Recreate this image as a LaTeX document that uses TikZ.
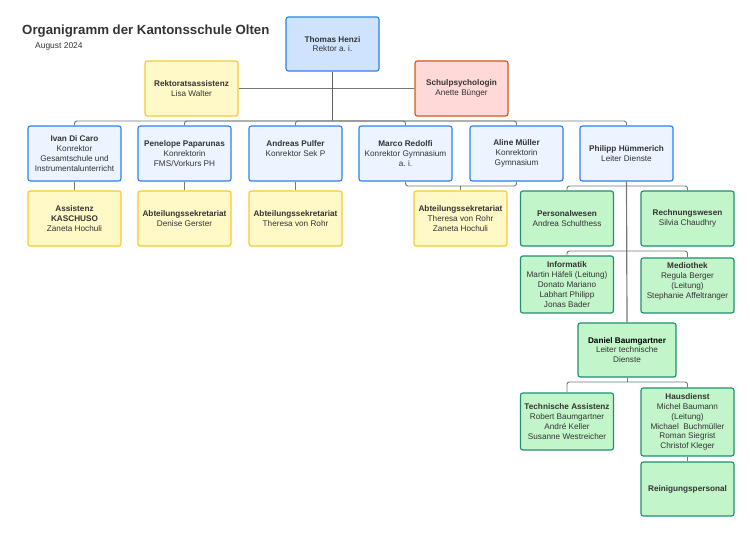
\documentclass[tikz,border=0pt]{standalone}
\usepackage{fontspec}
\setmainfont{Liberation Sans}
\usetikzlibrary{positioning}

\definecolor{rektorfill}{HTML}{CFE3FF}
\definecolor{konfill}{HTML}{EBF4FF}
\definecolor{blueline}{HTML}{2F80ED}
\definecolor{yelfill}{HTML}{FFF9C8}
\definecolor{yelline}{HTML}{F6CB2F}
\definecolor{redfill}{HTML}{FFD8D8}
\definecolor{redline}{HTML}{D4581C}
\definecolor{grnfill}{HTML}{C3F5CA}
\definecolor{grnline}{HTML}{1E9170}
\definecolor{textgray}{HTML}{333333}
\definecolor{linegray}{HTML}{777777}

\tikzset{
	box/.style={draw, rounded corners=2pt, line width=1pt, align=center, inner sep=1pt,
		minimum width=2.79cm, minimum height=1.65cm, text=textgray,
		font=\fontsize{7}{8.4}\selectfont},
	bluebox/.style={box, draw=blueline, fill=konfill},
	rektorbox/.style={box, draw=blueline, fill=rektorfill},
	yelbox/.style={box, draw=yelline, fill=yelfill},
	redbox/.style={box, draw=redline, fill=redfill},
	grnbox/.style={box, draw=grnline, fill=grnfill},
	conn/.style={draw=linegray, line width=0.8pt, rounded corners=2pt},
	mainconn/.style={draw=linegray!80!black, line width=1.4pt},
}

\begin{document}
\begin{tikzpicture}[x=0.03cm, y=-0.03cm]
	\useasboundingbox (0,0) rectangle (750,533);
	
	\node[anchor=west, inner sep=0pt, font=\bfseries\fontsize{11.3}{13}\selectfont, text=textgray] (title) at (22,31) {Organigramm der Kantonsschule Olten};
	\node[anchor=west, inner sep=0pt, font=\fontsize{7.2}{9}\selectfont, text=textgray] (date) at (35,46) {August 2024};
	
	\node[rektorbox, minimum height=1.62cm] (henzi) at (332.5,44) {\textbf{Thomas Henzi}\\Rektor a.\ i.};
	\node[yelbox] (rekass) at (191.5,88.5) {\textbf{Rektoratsassistenz}\\Lisa Walter};
	\node[redbox] (psych) at (461.5,88.5) {\textbf{Schulpsychologin}\\Anette Bünger};
	
	\node[bluebox] (ivan) at (74.5,153.5) {\textbf{Ivan Di Caro}\\Konrektor\\Gesamtschule und\\Instrumentalunterricht};
	\node[bluebox] (pene) at (184.5,153.5) {\textbf{Penelope Paparunas}\\Konrektorin\\FMS/Vorkurs PH};
	\node[bluebox] (andreas) at (295.5,153.5) {\textbf{Andreas Pulfer}\\Konrektor Sek P\\};
	\node[bluebox] (marco) at (405.5,153.5) {\textbf{Marco Redolfi}\\Konrektor Gymnasium\\a.\ i.};
	\node[bluebox] (aline) at (516.5,153.5) {\textbf{Aline Müller}\\Konrektorin\\Gymnasium};
	\node[bluebox] (philipp) at (626.5,153.5) {\textbf{Philipp Hümmerich}\\Leiter Dienste};
	
	\node[yelbox] (kaschuso) at (74.5,218.5) {\textbf{Assistenz}\\\textbf{KASCHUSO}\\Zaneta Hochuli};
	\node[yelbox] (denise) at (184.5,218.5) {\textbf{Abteilungssekretariat}\\Denise Gerster};
	\node[yelbox] (theresa) at (295.5,218.5) {\textbf{Abteilungssekretariat}\\Theresa von Rohr};
	\node[yelbox] (sekr) at (460.5,218.5) {\textbf{Abteilungssekretariat}\\Theresa von Rohr\\Zaneta Hochuli};
	\node[grnbox] (personal) at (567,218.5) {\textbf{Personalwesen}\\Andrea Schulthess};
	\node[grnbox] (rechnung) at (687.5,218.5) {\textbf{Rechnungswesen}\\Silvia Chaudhry};
	
	\node[grnbox, minimum height=1.71cm] (informatik) at (567,284.5) {\textbf{Informatik}\\Martin Häfeli (Leitung)\\Donato Mariano\\Labhart Philipp\\Jonas Bader};
	\node[grnbox] (mediothek) at (687.5,285.5) {\textbf{Mediothek}\\Regula Berger\\(Leitung)\\Stephanie Affeltranger\\};
	\node[grnbox, minimum width=2.94cm, minimum height=1.62cm] (daniel) at (627,350) {\textcolor{black}{\textbf{Daniel Baumgartner}}\\Leiter technische\\Dienste};
	\node[grnbox, minimum height=1.71cm] (techass) at (567,421.5) {\textbf{Technische Assistenz}\\Robert Baumgartner\\André Keller\\Susanne Westreicher};
	\node[grnbox, minimum height=2.04cm] (haus) at (687.5,422) {\textbf{Hausdienst}\\Michel Baumann\\(Leitung)\\Michael\ \ Buchmüller\\Roman Siegrist\\Christof Kleger};
	\node[grnbox, minimum height=1.62cm] (reinigung) at (687.5,489) {\textbf{Reinigungspersonal}};
	
	\coordinate (bus) at (332.5,121);
	\coordinate (sekrtop) at (460.5,186);
	\coordinate (pbusA) at (626.5,186);
	\coordinate (pbusB) at (626.5,251);
	\coordinate (dbus) at (627,382);
	
	\draw[conn] (rekass.east) -- (psych.west);
	\draw[mainconn] (henzi.south) -- (bus);
	\foreach \k in {ivan,pene,andreas,marco,aline,philipp}
		\draw[conn] (bus) -| (\k.north);
	
	\draw[conn] (ivan) -- (kaschuso);
	\draw[conn] (pene) -- (denise);
	\draw[conn] (andreas) -- (theresa);
	\draw[conn] (marco.south) |- (sekrtop) -| (aline.south);
	\draw[conn] (sekrtop) -- (sekr.north);
	
	\draw[conn, line width=1pt] (philipp.south) -- (daniel.north);
	\draw[conn] (pbusA) -| (personal.north);
	\draw[conn] (pbusA) -| (rechnung.north);
	\draw[conn] (pbusB) -| (informatik.north);
	\draw[conn] (pbusB) -| (mediothek.north);
	
	\draw[conn] (daniel.south) -- (dbus);
	\draw[conn] (dbus) -| (techass.north);
	\draw[conn] (dbus) -| (haus.north);
	\draw[conn] (haus) -- (reinigung);
\end{tikzpicture}
\end{document}
